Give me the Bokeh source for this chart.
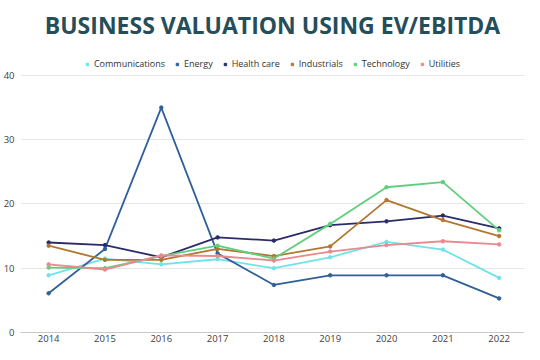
from bokeh.plotting import figure
from bokeh.models import Legend, LegendItem, FixedTicker, Range1d, ColumnDataSource
from bokeh.embed import file_html
from bokeh.resources import INLINE

years = [2014, 2015, 2016, 2017, 2018, 2019, 2020, 2021, 2022]
communications = [8.9, 11.5, 10.6, 11.4, 10.0, 11.7, 14.1, 12.9, 8.5]
energy = [6.1, 13.0, 35.0, 12.3, 7.4, 8.9, 8.9, 8.9, 5.3]
health_care = [14.0, 13.6, 11.7, 14.8, 14.3, 16.7, 17.3, 18.2, 16.2]
industrials = [13.5, 11.3, 11.3, 13.0, 11.9, 13.4, 20.6, 17.5, 15.0]
technology = [10.1, 10.0, 11.9, 13.5, 11.5, 16.9, 22.6, 23.4, 15.9]
utilities = [10.6, 9.8, 12.0, 11.9, 11.2, 12.6, 13.6, 14.2, 13.7]

series = [
    ("Communications", communications, "#6fe3e8"),
    ("Energy", energy, "#30609a"),
    ("Health care", health_care, "#2a2c6a"),
    ("Industrials", industrials, "#b3762f"),
    ("Technology", technology, "#5fcf7c"),
    ("Utilities", utilities, "#e88a8e"),
]

FONT = "Open Sans"

p = figure(width=524, height=344, output_backend="svg", toolbar_location=None,
           x_range=Range1d(2013.5, 2022.45), y_range=Range1d(0, 44.5),
           min_border_left=14, min_border_right=0, min_border_bottom=0, min_border_top=0)

p.title.text = "BUSINESS VALUATION USING EV/EBITDA"
p.title.align = "center"
p.title.text_font = FONT
p.title.text_font_size = "23px"
p.title.text_font_style = "bold"
p.title.text_color = "#264d5a"
p.title.standoff = 12

p.outline_line_color = None
p.background_fill_color = "white"

items = []
for name, vals, col in series:
    src = ColumnDataSource(dict(x=years, y=vals))
    p.line("x", "y", source=src, line_color=col, line_width=1.8)
    p.scatter("x", "y", source=src, marker="circle", size=3.5, fill_color=col, line_color=col)
    sq = p.scatter(x=[2030], y=[100], marker="square", size=5, fill_color=col, line_color=col)
    items.append(LegendItem(label=name, renderers=[sq]))

legend = Legend(items=items, orientation="horizontal", location="top_center",
                border_line_color=None, background_fill_alpha=0,
                label_text_font=FONT, label_text_font_size="9px", label_text_color="#333333",
                glyph_width=6, glyph_height=6, label_standoff=4, spacing=9,
                padding=0, margin=11, label_height=10)
p.add_layout(legend, "center")

p.xaxis.ticker = FixedTicker(ticks=years)
p.yaxis.ticker = FixedTicker(ticks=[0, 10, 20, 30, 40])
p.xaxis.major_tick_line_color = None
p.xaxis.minor_tick_line_color = None
p.xaxis.major_tick_in = 0
p.xaxis.major_tick_out = 0
p.xaxis.axis_label_standoff = 0
p.yaxis.major_tick_line_color = None
p.yaxis.minor_tick_line_color = None
p.yaxis.major_tick_in = 0
p.yaxis.major_tick_out = 0
p.yaxis.axis_line_color = None
p.xaxis.axis_line_color = "#c8c8c8"
p.xaxis.major_label_text_font = FONT
p.yaxis.major_label_text_font = FONT
p.xaxis.major_label_text_font_size = "9.5px"
p.yaxis.major_label_text_font_size = "9.5px"
p.xaxis.major_label_text_color = "#404040"
p.yaxis.major_label_text_color = "#404040"
p.yaxis.major_label_standoff = 6
p.xaxis.major_label_standoff = 2
p.xgrid.grid_line_color = None
p.ygrid.grid_line_color = "#e6e6e6"
p.ygrid.grid_line_width = 1

open("out.html", "w").write(file_html(p, INLINE))
